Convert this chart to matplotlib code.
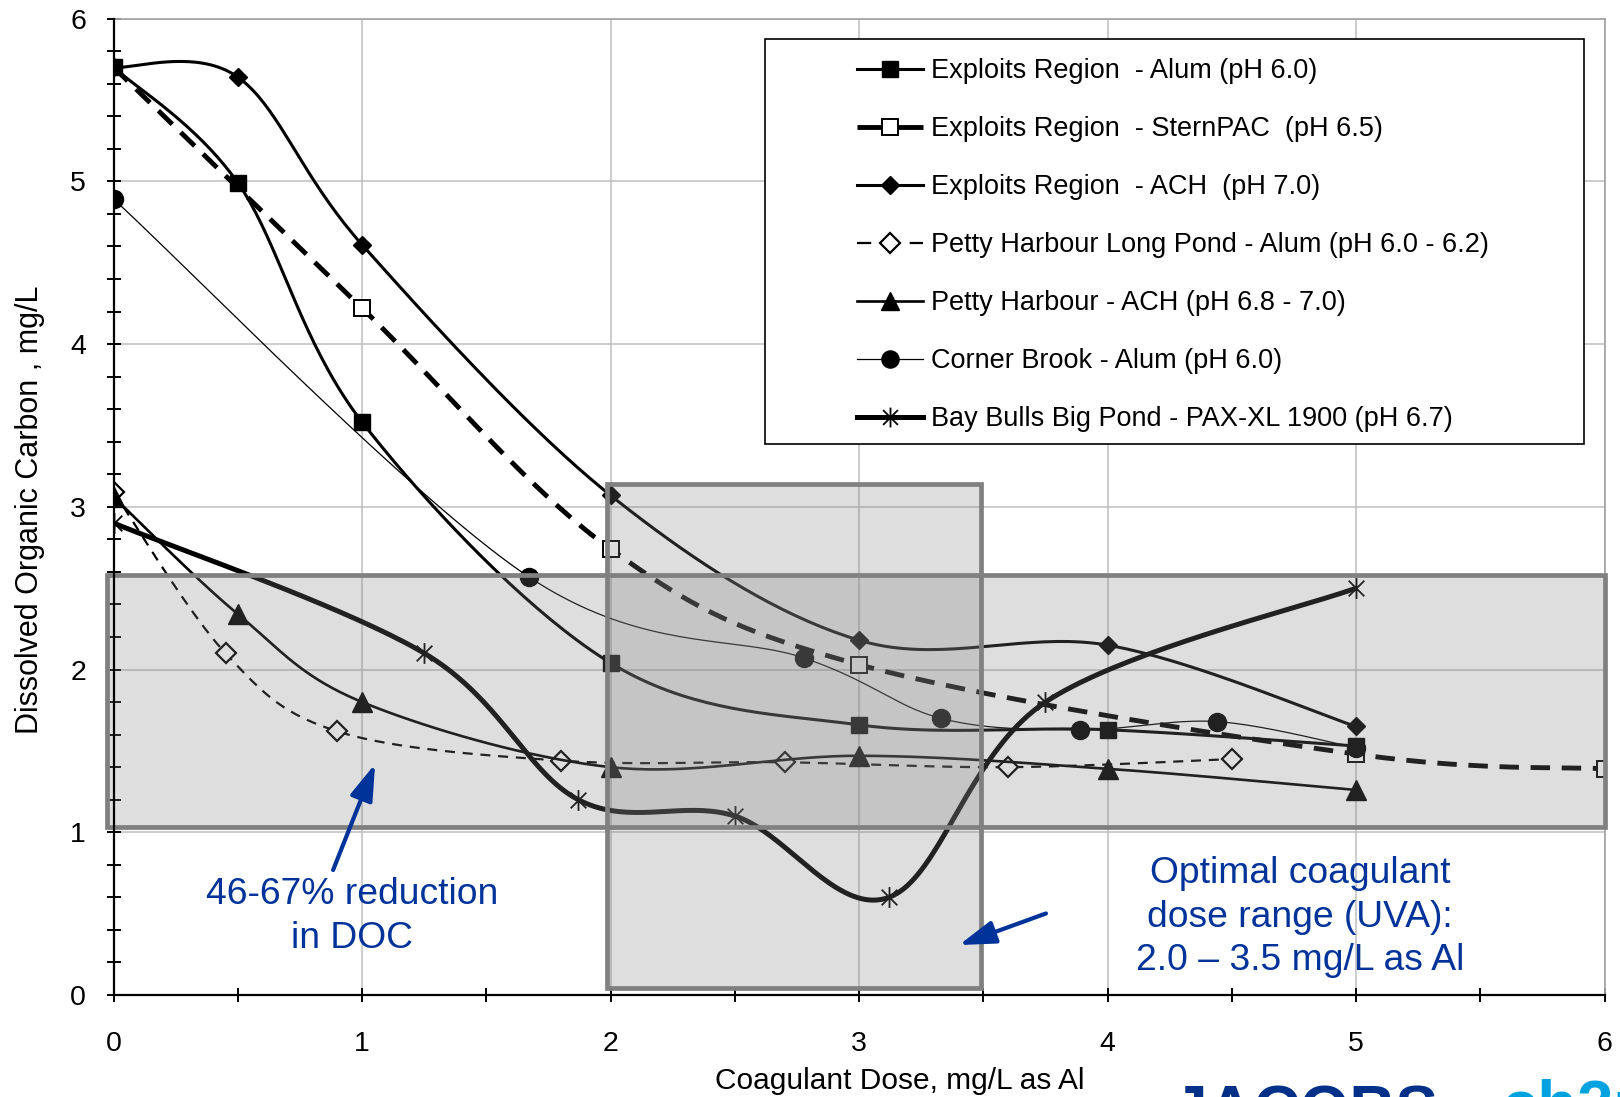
import numpy as np
import matplotlib
matplotlib.use("Agg")
import matplotlib.pyplot as plt
from matplotlib.lines import Line2D
from matplotlib.patches import Rectangle
from matplotlib.path import Path

plt.rcParams['font.family'] = ['Liberation Sans', 'DejaVu Sans']

# ---------------- data ----------------
er_alum_x = [0, 0.5, 1, 2, 3, 4, 5]
er_alum_y = [5.70, 4.99, 3.52, 2.04, 1.66, 1.63, 1.53]

er_stern_x = [0, 1, 2, 3, 5, 6]
er_stern_y = [5.70, 4.22, 2.74, 2.03, 1.48, 1.39]

er_ach_x = [0, 0.5, 1, 2, 3, 4, 5]
er_ach_y = [5.70, 5.64, 4.61, 3.07, 2.18, 2.15, 1.65]

ph_alum_x = [0, 0.45, 0.9, 1.8, 2.7, 3.6, 4.5]
ph_alum_y = [3.09, 2.10, 1.62, 1.44, 1.43, 1.40, 1.45]

ph_ach_x = [0, 0.5, 1, 2, 3, 4, 5]
ph_ach_y = [3.06, 2.34, 1.80, 1.40, 1.47, 1.39, 1.26]

cb_alum_x = [0, 1.67, 2.78, 3.33, 3.89, 4.44, 5]
cb_alum_y = [4.89, 2.57, 2.07, 1.70, 1.63, 1.68, 1.52]

bb_pax_x = [0, 1.25, 1.87, 2.5, 3.12, 3.75, 5]
bb_pax_y = [2.90, 2.10, 1.20, 1.10, 0.60, 1.80, 2.50]

labels = [
    "Exploits Region  - Alum (pH 6.0)",
    "Exploits Region  - SternPAC  (pH 6.5)",
    "Exploits Region  - ACH  (pH 7.0)",
    "Petty Harbour Long Pond - Alum (pH 6.0 - 6.2)",
    "Petty Harbour - ACH (pH 6.8 - 7.0)",
    "Corner Brook - Alum (pH 6.0)",
    "Bay Bulls Big Pond - PAX-XL 1900 (pH 6.7)",
]

x_ticks = [0, 1, 2, 3, 4, 5, 6]
y_ticks = [0, 1, 2, 3, 4, 5, 6]

band_y = (1.03, 2.58)      # DOC reduction band
dose_x = (1.985, 3.49)     # optimal dose range box

blue = '#003399'


def smooth(x, y, n=40):
    pts = np.column_stack([x, y]).astype(float)
    P = np.vstack([pts[0], pts, pts[-1]])
    out = []
    t = np.linspace(0, 1, n)[:, None]
    for i in range(1, len(P) - 2):
        p0, p1, p2, p3 = P[i - 1], P[i], P[i + 1], P[i + 2]
        c1 = p1 + (p2 - p0) / 6.0
        c2 = p2 - (p3 - p1) / 6.0
        seg = (1 - t) ** 3 * p1 + 3 * (1 - t) ** 2 * t * c1 + 3 * (1 - t) * t ** 2 * c2 + t ** 3 * p2
        out.append(seg if i == 1 else seg[1:])
    s = np.vstack(out)
    return s[:, 0], s[:, 1]


# asterisk marker (vertical bar + X)
ast = Path([(0, -1), (0, 1), (-0.75, -0.75), (0.75, 0.75), (-0.75, 0.75), (0.75, -0.75)],
           [Path.MOVETO, Path.LINETO, Path.MOVETO, Path.LINETO, Path.MOVETO, Path.LINETO])

fig = plt.figure(figsize=(16.2, 10.97), dpi=100)
ax = fig.add_axes([0.07019, 0.09298, 0.92025, 0.89006])
ax.set_xlim(0, 6)
ax.set_ylim(0, 6)

series = [
    dict(x=er_alum_x, y=er_alum_y, ls='-', lls='-', lw=2.2, marker='s', ms=11.5, mfc='black', mew=1.0, skip=0),
    dict(x=er_stern_x, y=er_stern_y, ls=(0, (4, 2.4)), lls=(0, (6.3, 1.6)), lw=3.5, marker='s', ms=11.5,
         mfc='white', mew=1.4, skip=1),
    dict(x=er_ach_x, y=er_ach_y, ls='-', lls='-', lw=2.2, marker='D', ms=9.5, mfc='black', mew=1.0, skip=0),
    dict(x=ph_alum_x, y=ph_alum_y, ls=(0, (4.5, 3.5)), lls=(0, (6.4, 17.3)), lw=1.6, marker='D', ms=10.5,
         mfc='white', mew=1.6, skip=0),
    dict(x=ph_ach_x, y=ph_ach_y, ls='-', lls='-', lw=1.9, marker='^', ms=14, mfc='black', mew=1.0, skip=0),
    dict(x=cb_alum_x, y=cb_alum_y, ls='-', lls='-', lw=0.9, marker='o', ms=13, mfc='black', mew=1.0, skip=0),
    dict(x=bb_pax_x, y=bb_pax_y, ls='-', lls='-', lw=3.6, marker=ast, ms=15, mfc='none', mew=1.3, skip=0),
]

handles = []
for k, s in enumerate(series):
    sx, sy = smooth(s['x'], s['y'])
    ax.plot(sx, sy, color='black', ls=s['ls'], lw=s['lw'], zorder=3 + k * 0.1,
            solid_capstyle='butt', dash_capstyle='butt')
    ax.plot(s['x'][s['skip']:], s['y'][s['skip']:], ls='none', marker=s['marker'],
            ms=s['ms'], mfc=s['mfc'], mec='black', mew=s['mew'], zorder=3.05 + k * 0.1)
    handles.append(Line2D([], [], color='black', ls=s['lls'], lw=s['lw'], marker=s['marker'],
                          ms=s['ms'] * 0.95, mfc=s['mfc'], mec='black', mew=s['mew'],
                          dash_capstyle='butt'))

# shaded regions drawn over the curves (semi-transparent)
fill = (0.5, 0.5, 0.5, 0.26)
ax.add_patch(Rectangle((-0.025, band_y[0]), 6.025, band_y[1] - band_y[0], facecolor=fill,
                       edgecolor='#808080', lw=3.4, zorder=5, clip_on=False))
ax.add_patch(Rectangle((dose_x[0], 0.044), dose_x[1] - dose_x[0], 3.138 - 0.044, facecolor=fill,
                       edgecolor='#808080', lw=3.4, zorder=5, clip_on=False))

# grid / spines / ticks
ax.set_xticks(x_ticks)
ax.set_yticks(y_ticks)
ax.set_xticks(np.arange(0, 6.01, 0.5), minor=True)
ax.set_yticks(np.arange(0, 6.01, 0.2), minor=True)
ax.grid(True, which='major', color='#bfbfbf', lw=1.1, zorder=1)
ax.set_axisbelow(True)
for side in ['top', 'right']:
    ax.spines[side].set_color('#a6a6a6')
    ax.spines[side].set_linewidth(1.3)
for side in ['left', 'bottom']:
    ax.spines[side].set_color('black')
    ax.spines[side].set_linewidth(1.6)
    ax.spines[side].set_zorder(6)
ax.tick_params(axis='both', which='both', direction='inout', length=10, width=1.4, color='black',
               labelsize=20.5, top=False, right=False)
ax.tick_params(axis='x', which='major', pad=21)
ax.tick_params(axis='y', which='major', pad=15)

ax.set_xlabel("Coagulant Dose, mg/L as Al", fontsize=21.5)
ax.xaxis.set_label_coords(0.5274, -0.074)
ax.set_ylabel("Dissolved Organic Carbon , mg/L", fontsize=22)
ax.yaxis.set_label_coords(-0.046, 0.497)

# legend with a separate frame
frame = Rectangle((0.4366, 0.564), 0.9863 - 0.4366, 0.9788 - 0.564, transform=ax.transAxes,
                  facecolor='white', edgecolor='black', lw=1.2, zorder=7)
ax.add_patch(frame)
leg = ax.legend(handles, labels, loc='upper left', bbox_to_anchor=(0.4983, 0.9592),
                frameon=False, fontsize=19.5, handlelength=2.45, handletextpad=0.3,
                labelspacing=1.18, borderpad=0, borderaxespad=0, numpoints=1)
leg.set_zorder(8)

# annotations
ax.text(0.959, 0.482, "46-67% reduction\nin DOC", color=blue, fontsize=26.8, ha='center',
        va='center', linespacing=1.32, zorder=9)
ax.annotate("", xy=(1.052, 1.42), xytext=(0.883, 0.768),
            arrowprops=dict(arrowstyle='-|>,head_length=1.0,head_width=0.32', lw=3, color=blue,
                            mutation_scale=22, shrinkA=0, shrinkB=0), zorder=9)
ax.text(4.774, 0.479, "Optimal coagulant\ndose range (UVA):\n2.0 \u2013 3.5 mg/L as Al", color=blue,
        fontsize=26.8, ha='center', va='center', linespacing=1.33, zorder=9)
ax.annotate("", xy=(3.402, 0.307), xytext=(3.752, 0.501),
            arrowprops=dict(arrowstyle='-|>,head_length=1.0,head_width=0.32', lw=3, color=blue,
                            mutation_scale=22, shrinkA=0, shrinkB=0), zorder=9)

# partially visible logos at the bottom edge
fig.text(1172 / 1620, -0.0315, "JACOBS", color='#003087', fontsize=46, fontweight='bold',
         ha='left', va='baseline')
fig.text(1502 / 1620, -0.026, "ch2m", color='#00a3e0', fontsize=47, fontweight='bold',
         ha='left', va='baseline')

fig.savefig("out.png", dpi=100)
